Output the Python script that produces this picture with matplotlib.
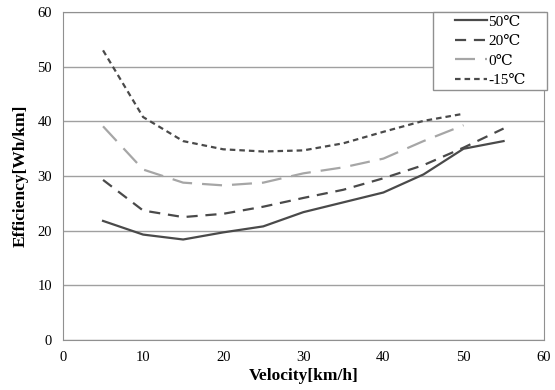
#!/usr/bin/env python3

import matplotlib
matplotlib.use("Agg")
import matplotlib.pyplot as plt
from matplotlib.patches import Rectangle


# ------------------------------------------------------------
# DATA
# ------------------------------------------------------------

velocity = [5, 10, 15, 20, 25, 30, 35, 40, 45, 50, 55]

eff_50 = [21.8, 19.3, 18.4, 19.7, 20.8, 23.4, 25.2, 27.0, 30.3, 35.0, 36.4]
eff_20 = [29.3, 23.7, 22.5, 23.1, 24.4, 26.0, 27.5, 29.6, 32.0, 35.2, 38.7]
eff_0 = [39.1, 31.2, 28.8, 28.3, 28.8, 30.5, 31.6, 33.2, 36.4, 39.3]
eff_m15 = [53.0, 40.8, 36.4, 34.9, 34.5, 34.7, 36.0, 38.1, 40.1, 41.4]

labels = ["50\u2103", "20\u2103", "0\u2103", "-15\u2103"]


# ------------------------------------------------------------
# PLOT
# ------------------------------------------------------------

plt.rcParams["font.family"] = ["Liberation Serif", "DejaVu Serif", "DejaVu Sans"]

fig = plt.figure(figsize=(5.55, 3.9), dpi=100)
ax = fig.add_axes([0.1135, 0.128, 0.866, 0.841])

dark = "#4a4a4a"
light = "#a6a6a6"

ax.plot(velocity, eff_50, color=dark, lw=1.6, label=labels[0])
ax.plot(velocity, eff_20, color=dark, lw=1.6, dashes=(5, 3.5), label=labels[1])
ax.plot(velocity[:len(eff_0)], eff_0, color=light, lw=1.6, dashes=(9, 4.5), label=labels[2])
ax.plot(velocity[:len(eff_m15)], eff_m15, color=dark, lw=1.6, dashes=(2.5, 1.8), label=labels[3])

ax.set_xlim(0, 60)
ax.set_ylim(0, 60)
ax.set_xticks(range(0, 61, 10))
ax.set_yticks(range(0, 61, 10))
ax.tick_params(length=0, labelsize=10.5, pad=8)
ax.yaxis.grid(True, color="#a0a0a0", lw=1.0)
ax.set_axisbelow(True)
for s in ax.spines.values():
    s.set_color("#909090")

ax.set_xlabel("Velocity[km/h]", fontsize=12.5, fontweight="bold", labelpad=3)
ax.set_ylabel("Efficiency[Wh/km]", fontsize=12.5, fontweight="bold", labelpad=6)

# legend box sticks out a bit past the right frame, like the original
box = (0.770, 0.762, 0.237, 0.238)
ax.add_patch(Rectangle(box[:2], box[2], box[3], transform=ax.transAxes,
                       facecolor="white", edgecolor="#909090", lw=1.0,
                       clip_on=False, zorder=4))
leg = ax.legend(loc="center", bbox_to_anchor=box, frameon=False, fontsize=11,
                handlelength=2.1, handletextpad=0.1, labelspacing=0.38,
                borderpad=0.0, borderaxespad=0)
leg.set_zorder(5)

fig.savefig("out.png", dpi=100)
